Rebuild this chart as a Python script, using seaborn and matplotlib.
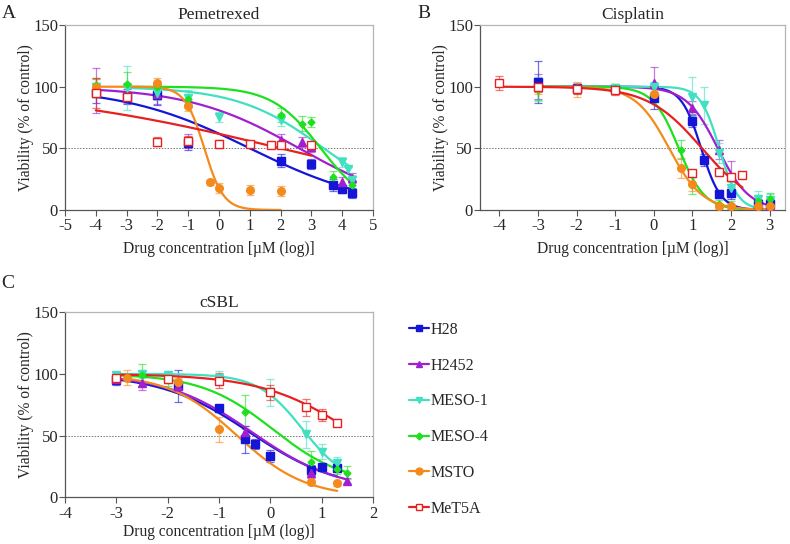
import numpy as np
import pandas as pd
import matplotlib.pyplot as plt
import seaborn as sns

cell_lines = ["H28", "H2452", "MESO-1", "MESO-4", "MSTO", "MeT5A"]
colors = {"H28": "#1515d8", "H2452": "#a020d0", "MESO-1": "#40e0c0",
          "MESO-4": "#1ee01e", "MSTO": "#f58a1c", "MeT5A": "#e82020"}
markers = {"H28": "s", "H2452": "^", "MESO-1": "v", "MESO-4": "D", "MSTO": "o", "MeT5A": "s"}

# Pemetrexed (panel A)
pem_x = {"H28": [-4, -3, -2, -1, 2, 3, 3.7, 4, 4.3],
         "H2452": [-4, -3, -2, -1, 2, 2.7, 3, 4, 4.3],
         "MESO-1": [-4, -3, -2, -1, 0, 2, 4, 4.2, 4.3],
         "MESO-4": [-4, -3, -2, -1, 2, 2.7, 3, 3.7, 4.3],
         "MSTO": [-4, -2, -1, -0.3, 0, 1, 2],
         "MeT5A": [-4, -3, -2, -1, 0, 1, 1.7, 2, 3]}
pem_y = {"H28": [95, 92, 93, 54, 40, 37.5, 20, 17, 14],
         "H2452": [97, 95, 94, 56, 57, 55, 51, 23, 26],
         "MESO-1": [100, 99, 95, 91, 75.5, 73, 39, 33, 24],
         "MESO-4": [101, 102, 100, 90, 77, 70, 71.5, 27, 20],
         "MSTO": [100, 103, 84, 22.5, 18, 16, 15.5],
         "MeT5A": [95, 92, 55.5, 56, 53.5, 53.5, 52.5, 53, 52.5]}
pem_err = {"H28": [8, 6, 8, 5, 5, 4, 5, 3, 4],
           "H2452": [18, 8, 8, 6, 5, 4, 4, 4, 4],
           "MESO-1": [6, 18, 6, 6, 4, 5, 4, 3, 4],
           "MESO-4": [6, 10, 3, 4, 6, 6, 4, 5, 4],
           "MSTO": [6, 4, 4, 2, 4, 4, 4],
           "MeT5A": [12, 4, 4, 4, 3, 2, 1.5, 3, 3]}
# fitted curves: top, bottom, logIC50, hill, from, to
pem_fit = {"H28": (100, 0, 1.0, 0.21, -4, 4.3),
           "H2452": (100, 0, 2.6, 0.24, -4, 4.3),
           "MESO-1": (100, 0, 3.4, 0.31, -3, 4.3),
           "MESO-4": (100, 0, 3.3, 0.55, -3, 4.3),
           "MSTO": (100, 0, -0.48, 1.39, -4, 2),
           "MeT5A": (100, 0, 2.0, 0.104, -4, 3)}

# Cisplatin (panel B)
cis_x = {"H28": [-3, -2, -1, 0, 1, 1.3, 1.7, 2, 2.7, 3],
         "H2452": [-3, -2, -1, 0, 1, 1.7, 2, 2.7, 3],
         "MESO-1": [-3, -2, -1, 0, 1, 1.3, 1.7, 2, 2.7, 3],
         "MESO-4": [-3, -2, -1, 0, 0.7, 1, 1.7, 2, 2.7, 3],
         "MSTO": [-3, -2, -1, 0, 0.7, 1, 1.7, 2, 2.7, 3],
         "MeT5A": [-4, -3, -2, -1, 1, 1.7, 2, 2.3]}
cis_y = {"H28": [104, 99, 98, 91, 72, 40.5, 13, 14, 5, 5],
         "H2452": [100, 99, 98, 103, 83, 49, 27, 5, 3],
         "MESO-1": [98, 98, 99, 100, 92, 85, 46, 18, 9, 8],
         "MESO-4": [97, 99, 99, 95, 49, 20, 5, 4, 7, 9],
         "MSTO": [99, 98, 97, 94, 34, 21, 3, 3, 3, 3],
         "MeT5A": [103, 100, 98, 97, 30, 31, 27, 28]}
cis_err = {"H28": [17, 3, 3, 9, 5, 5, 3, 5, 3, 4],
           "H2452": [10, 3, 3, 13, 5, 8, 13, 4, 3],
           "MESO-1": [10, 4, 3, 4, 16, 15, 8, 6, 6, 5],
           "MESO-4": [8, 3, 3, 4, 8, 7, 3, 3, 5, 5],
           "MSTO": [5, 6, 3, 4, 8, 6, 2, 2, 2, 2],
           "MeT5A": [6, 4, 4, 4, 2, 2, 2, 2]}
cis_fit = {"H28": (100, 0, 1.23, 1.7, -3, 3),
           "H2452": (100, 0, 1.66, 1.07, -3, 3),
           "MESO-1": (100, 0, 1.7, 1.8, -3, 3),
           "MESO-4": (100, 0, 0.65, 1.3, -3, 3),
           "MSTO": (100, 0, 0.4, 1.0, -3, 3),
           "MeT5A": (100, 0, 1.25, 0.62, -4, 2.3)}

# cSBL (panel C)
sbl_x = {"H28": [-3, -1.8, -1, -0.5, -0.3, 0, 0.8, 1, 1.3],
         "H2452": [-3, -2.5, -1.8, -0.5, 0.8, 1.5],
         "MESO-1": [-3, -2.5, -2, -1, 0, 0.7, 1, 1.3],
         "MESO-4": [-3, -2.5, -2, -0.5, 0.8, 1.3, 1.5],
         "MSTO": [-2.8, -1.8, -1, 0.8, 1.3],
         "MeT5A": [-3, -2, -1, 0, 0.7, 1, 1.3]}
sbl_y = {"H28": [95, 90.5, 72, 47, 43.5, 33.5, 22, 24.5, 24],
         "H2452": [96, 93, 90, 53, 19.5, 13.5],
         "MESO-1": [99, 100, 99, 97, 85, 51, 37, 28],
         "MESO-4": [97, 99, 95, 69, 28.5, 22.5, 20],
         "MSTO": [97, 93.5, 55, 12, 11.5],
         "MeT5A": [96.5, 96, 94.5, 85, 73, 66.5, 60.5]}
sbl_err = {"H28": [4, 13, 3, 11, 4, 5, 4, 2, 3],
           "H2452": [3, 6, 5, 5, 4, 2],
           "MESO-1": [2, 3, 3, 5, 11, 11, 6, 5],
           "MESO-4": [2, 9, 5, 14, 9, 4, 5],
           "MSTO": [6, 3, 10, 2, 2],
           "MeT5A": [3, 3, 6, 6, 7, 5, 3]}
sbl_fit = {"H28": (100, 5, -0.4, 0.5, -3, 1.3),
           "H2452": (100, 5, -0.35, 0.52, -3, 1.5),
           "MESO-1": (100, 10, 0.63, 1.0, -3, 1.3),
           "MESO-4": (100, 10, 0.05, 0.62, -3, 1.5),
           "MSTO": (100, 0, -0.65, 0.65, -2.8, 1.3),
           "MeT5A": (100, 0, 1.7, 0.48, -3, 1.3)}

sns.set_style("ticks")
plt.rcParams['font.family'] = ['Liberation Serif', 'DejaVu Serif']
plt.rcParams['font.size'] = 11

fig = plt.figure(figsize=(7.9, 5.44), dpi=100)
axA = fig.add_axes([0.0823, 0.614, 0.390, 0.340])
axB = fig.add_axes([0.6076, 0.614, 0.386, 0.340])
axC = fig.add_axes([0.0823, 0.086, 0.390, 0.340])


def draw_panel(ax, xs, ys, errs, fits, title, xlim, xticks, xpad=4.5):
    for name in cell_lines:
        c = colors[name]
        top, bot, logc, hill, x0, x1 = fits[name]
        xx = np.linspace(x0, x1, 200)
        curve = pd.DataFrame({"x": xx, "y": bot + (top - bot) / (1 + 10 ** ((xx - logc) * hill))})
        sns.lineplot(data=curve, x="x", y="y", color=c, lw=1.6, ax=ax, zorder=3)
        ax.errorbar(xs[name], ys[name], yerr=errs[name], fmt="none", ecolor=c,
                    alpha=0.6, elinewidth=0.9, capsize=3, capthick=0.9, zorder=2)
        face = "white" if name == "MeT5A" else c
        ms = 3.5 if markers[name] == "D" else 5.5
        ax.plot(xs[name], ys[name], ls="none", marker=markers[name], ms=ms,
                mfc=face, mec=c, mew=1.0, zorder=4)
    ax.axhline(50, color="#777777", ls=(0, (1.5, 1.5)), lw=0.7, zorder=1)
    ax.set_xlim(*xlim)
    ax.set_ylim(0, 150)
    ax.set_xticks(xticks)
    ax.set_xticklabels([str(t) for t in xticks])
    ax.set_yticks([0, 50, 100, 150])
    ax.set_title(title, fontsize=12.5, pad=4)
    ax.set_xlabel("Drug concentration [µM (log)]", fontsize=11.2, labelpad=xpad)
    ax.set_ylabel("Viability (% of control)", fontsize=11.2, labelpad=-1)
    ax.tick_params(direction="out", length=4, width=0.8, labelsize=12, color="#555555")
    ax.tick_params(axis="y", pad=1)
    ax.tick_params(axis="x", pad=2)
    for s in ["left", "bottom"]:
        ax.spines[s].set_color("#555555")
        ax.spines[s].set_linewidth(0.9)
    for s in ["top", "right"]:
        ax.spines[s].set_visible(True)
        ax.spines[s].set_color("#b5b5b5")
        ax.spines[s].set_linewidth(0.9)


draw_panel(axA, pem_x, pem_y, pem_err, pem_fit, "Pemetrexed", (-5, 5), list(range(-5, 6)))
draw_panel(axB, cis_x, cis_y, cis_err, cis_fit, "Cisplatin", (-4.5, 3.4), list(range(-4, 4)))
draw_panel(axC, sbl_x, sbl_y, sbl_err, sbl_fit, "cSBL", (-4, 2), list(range(-4, 3)), xpad=1.5)

fig.text(0.002, 0.99, "A", fontsize=14, va="top", ha="left")
fig.text(0.528, 0.99, "B", fontsize=14, va="top", ha="left")
fig.text(0.002, 0.495, "C", fontsize=14, va="top", ha="left")

handles = []
for name in cell_lines:
    c = colors[name]
    face = "white" if name == "MeT5A" else c
    ms = 3.5 if markers[name] == "D" else 5
    h, = plt.plot([], [], color=c, lw=1.6, marker=markers[name], ms=ms, mfc=face, mec=c)
    handles.append(h)
fig.legend(handles, cell_lines, loc="upper left", bbox_to_anchor=(0.5, 0.435),
           frameon=False, fontsize=11.5, handlelength=1.2, handletextpad=0.15,
           labelspacing=1.24)

fig.savefig("out.png", dpi=100)
